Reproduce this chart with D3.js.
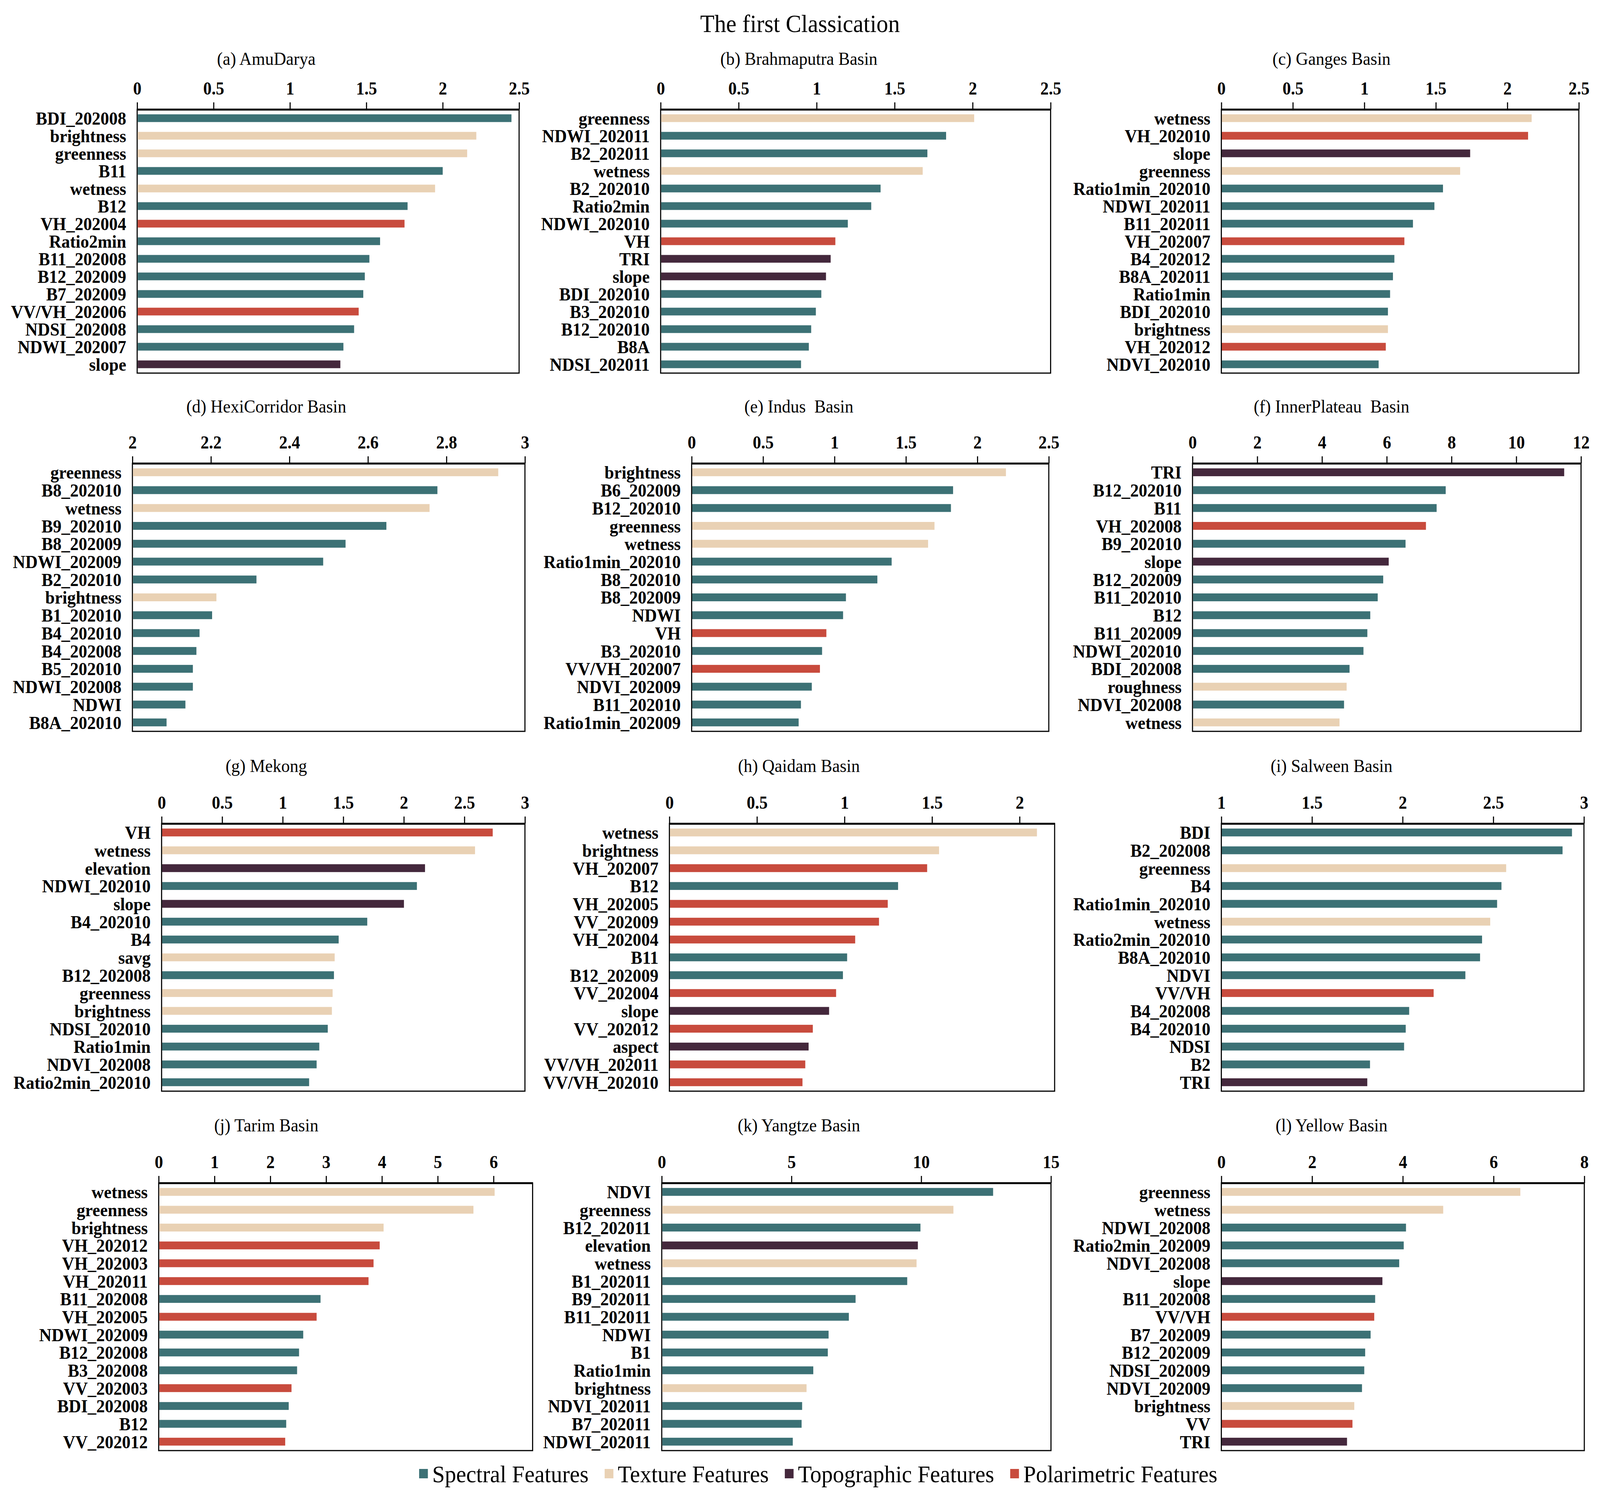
<!DOCTYPE html>
<html>
<head>
<meta charset="utf-8">
<script src="https://cdn.jsdelivr.net/npm/d3@7"></script>
<style>
  html, body { margin: 0; padding: 0; background: #fff; overflow: hidden; }
  svg { display: block; width: 100vw; height: 100vh; }
  text { font-family: "Liberation Serif", "Times New Roman", serif; }
</style>
</head>
<body>
<svg id="chart"></svg>
<script>
// feature groups: S = spectral, T = texture, O = topographic, P = polarimetric
var groupKeys = ['S', 'T', 'O', 'P']
var groupNames = ['Spectral Features', 'Texture Features', 'Topographic Features', 'Polarimetric Features']
var groupColors = ['#3c7175', '#e9d1b4', '#44283c', '#c84b3d']

var mainTitle = 'The first Classication'

// (a) AmuDarya
var aLabels = ['BDI_202008', 'brightness', 'greenness', 'B11', 'wetness', 'B12', 'VH_202004', 'Ratio2min', 'B11_202008', 'B12_202009', 'B7_202009', 'VV/VH_202006', 'NDSI_202008', 'NDWI_202007', 'slope']
var aValues = [2.45, 2.22, 2.16, 2.00, 1.95, 1.77, 1.75, 1.59, 1.52, 1.49, 1.48, 1.45, 1.42, 1.35, 1.33]
var aTypes = ['S', 'T', 'T', 'S', 'T', 'S', 'P', 'S', 'S', 'S', 'S', 'P', 'S', 'S', 'O']

// (b) Brahmaputra
var bLabels = ['greenness', 'NDWI_202011', 'B2_202011', 'wetness', 'B2_202010', 'Ratio2min', 'NDWI_202010', 'VH', 'TRI', 'slope', 'BDI_202010', 'B3_202010', 'B12_202010', 'B8A', 'NDSI_202011']
var bValues = [2.01, 1.83, 1.71, 1.68, 1.41, 1.35, 1.20, 1.12, 1.09, 1.06, 1.03, 0.995, 0.965, 0.95, 0.90]
var bTypes = ['T', 'S', 'S', 'T', 'S', 'S', 'S', 'P', 'O', 'O', 'S', 'S', 'S', 'S', 'S']

// (c) Ganges
var cLabels = ['wetness', 'VH_202010', 'slope', 'greenness', 'Ratio1min_202010', 'NDWI_202011', 'B11_202011', 'VH_202007', 'B4_202012', 'B8A_202011', 'Ratio1min', 'BDI_202010', 'brightness', 'VH_202012', 'NDVI_202010']
var cValues = [2.17, 2.145, 1.74, 1.67, 1.55, 1.49, 1.34, 1.28, 1.21, 1.20, 1.18, 1.165, 1.165, 1.15, 1.10]
var cTypes = ['T', 'P', 'O', 'T', 'S', 'S', 'S', 'P', 'S', 'S', 'S', 'S', 'T', 'P', 'S']

// (d) HexiCorridor
var dLabels = ['greenness', 'B8_202010', 'wetness', 'B9_202010', 'B8_202009', 'NDWI_202009', 'B2_202010', 'brightness', 'B1_202010', 'B4_202010', 'B4_202008', 'B5_202010', 'NDWI_202008', 'NDWI', 'B8A_202010']
var dValues = [2.932, 2.777, 2.757, 2.647, 2.543, 2.486, 2.316, 2.214, 2.203, 2.171, 2.163, 2.154, 2.154, 2.135, 2.087]
var dTypes = ['T', 'S', 'T', 'S', 'S', 'S', 'S', 'T', 'S', 'S', 'S', 'S', 'S', 'S', 'S']

// (e) Indus
var eLabels = ['brightness', 'B6_202009', 'B12_202010', 'greenness', 'wetness', 'Ratio1min_202010', 'B8_202010', 'B8_202009', 'NDWI', 'VH', 'B3_202010', 'VV/VH_202007', 'NDVI_202009', 'B11_202010', 'Ratio1min_202009']
var eValues = [2.20, 1.83, 1.815, 1.70, 1.655, 1.40, 1.30, 1.08, 1.06, 0.943, 0.913, 0.898, 0.841, 0.765, 0.749]
var eTypes = ['T', 'S', 'S', 'T', 'T', 'S', 'S', 'S', 'S', 'P', 'S', 'P', 'S', 'S', 'S']

// (f) InnerPlateau
var fLabels = ['TRI', 'B12_202010', 'B11', 'VH_202008', 'B9_202010', 'slope', 'B12_202009', 'B11_202010', 'B12', 'B11_202009', 'NDWI_202010', 'BDI_202008', 'roughness', 'NDVI_202008', 'wetness']
var fValues = [11.48, 7.82, 7.54, 7.21, 6.58, 6.06, 5.89, 5.72, 5.49, 5.40, 5.28, 4.85, 4.76, 4.68, 4.54]
var fTypes = ['O', 'S', 'S', 'P', 'S', 'O', 'S', 'S', 'S', 'S', 'S', 'S', 'T', 'S', 'T']

// (g) Mekong
var gLabels = ['VH', 'wetness', 'elevation', 'NDWI_202010', 'slope', 'B4_202010', 'B4', 'savg', 'B12_202008', 'greenness', 'brightness', 'NDSI_202010', 'Ratio1min', 'NDVI_202008', 'Ratio2min_202010']
var gValues = [2.734, 2.588, 2.175, 2.108, 2.001, 1.698, 1.462, 1.429, 1.423, 1.412, 1.406, 1.372, 1.302, 1.28, 1.218]
var gTypes = ['P', 'T', 'O', 'S', 'O', 'S', 'S', 'T', 'S', 'T', 'T', 'S', 'S', 'S', 'S']

// (h) Qaidam
var hLabels = ['wetness', 'brightness', 'VH_202007', 'B12', 'VH_202005', 'VV_202009', 'VH_202004', 'B11', 'B12_202009', 'VV_202004', 'slope', 'VV_202012', 'aspect', 'VV/VH_202011', 'VV/VH_202010']
var hValues = [2.099, 1.54, 1.472, 1.306, 1.247, 1.197, 1.061, 1.015, 0.991, 0.952, 0.912, 0.819, 0.795, 0.776, 0.760]
var hTypes = ['T', 'T', 'P', 'S', 'P', 'P', 'P', 'S', 'S', 'P', 'O', 'P', 'O', 'P', 'P']

// (i) Salween
var iLabels = ['BDI', 'B2_202008', 'greenness', 'B4', 'Ratio1min_202010', 'wetness', 'Ratio2min_202010', 'B8A_202010', 'NDVI', 'VV/VH', 'B4_202008', 'B4_202010', 'NDSI', 'B2', 'TRI']
var iValues = [2.934, 2.882, 2.571, 2.545, 2.521, 2.483, 2.438, 2.427, 2.346, 2.171, 2.036, 2.017, 2.008, 1.82, 1.805]
var iTypes = ['S', 'S', 'T', 'S', 'S', 'T', 'S', 'S', 'S', 'P', 'S', 'S', 'S', 'S', 'O']

// (j) Tarim
var jLabels = ['wetness', 'greenness', 'brightness', 'VH_202012', 'VH_202003', 'VH_202011', 'B11_202008', 'VH_202005', 'NDWI_202009', 'B12_202008', 'B3_202008', 'VV_202003', 'BDI_202008', 'B12', 'VV_202012']
var jValues = [6.02, 5.64, 4.03, 3.96, 3.85, 3.76, 2.90, 2.83, 2.59, 2.515, 2.48, 2.38, 2.33, 2.285, 2.267]
var jTypes = ['T', 'T', 'T', 'P', 'P', 'P', 'S', 'P', 'S', 'S', 'S', 'P', 'S', 'S', 'P']

// (k) Yangtze
var kLabels = ['NDVI', 'greenness', 'B12_202011', 'elevation', 'wetness', 'B1_202011', 'B9_202011', 'B11_202011', 'NDWI', 'B1', 'Ratio1min', 'brightness', 'NDVI_202011', 'B7_202011', 'NDWI_202011']
var kValues = [12.77, 11.24, 9.97, 9.87, 9.82, 9.46, 7.47, 7.21, 6.43, 6.40, 5.84, 5.58, 5.41, 5.39, 5.05]
var kTypes = ['S', 'T', 'S', 'O', 'T', 'S', 'S', 'S', 'S', 'S', 'S', 'T', 'S', 'S', 'S']

// (l) Yellow
var lLabels = ['greenness', 'wetness', 'NDWI_202008', 'Ratio2min_202009', 'NDVI_202008', 'slope', 'B11_202008', 'VV/VH', 'B7_202009', 'B12_202009', 'NDSI_202009', 'NDVI_202009', 'brightness', 'VV', 'TRI']
var lValues = [6.59, 4.89, 4.07, 4.02, 3.92, 3.55, 3.39, 3.37, 3.29, 3.17, 3.15, 3.10, 2.93, 2.89, 2.77]
var lTypes = ['T', 'T', 'S', 'S', 'S', 'O', 'S', 'P', 'S', 'S', 'S', 'S', 'T', 'P', 'O']

// axis domains and tick values per panel
var panelTitles = ['(a) AmuDarya', '(b) Brahmaputra Basin', '(c) Ganges Basin',
  '(d) HexiCorridor Basin', '(e) Indus  Basin', '(f) InnerPlateau  Basin',
  '(g) Mekong', '(h) Qaidam Basin', '(i) Salween Basin',
  '(j) Tarim Basin', '(k) Yangtze Basin', '(l) Yellow Basin']
var panelDomains = [[0, 2.5], [0, 2.5], [0, 2.5], [2, 3], [0, 2.5], [0, 12],
  [0, 3], [0, 2.2], [1, 3], [0, 6.7], [0, 15], [0, 8]]
var panelTicks = [
  [0, 0.5, 1, 1.5, 2, 2.5], [0, 0.5, 1, 1.5, 2, 2.5], [0, 0.5, 1, 1.5, 2, 2.5],
  [2, 2.2, 2.4, 2.6, 2.8, 3], [0, 0.5, 1, 1.5, 2, 2.5], [0, 2, 4, 6, 8, 10, 12],
  [0, 0.5, 1, 1.5, 2, 2.5, 3], [0, 0.5, 1, 1.5, 2], [1, 1.5, 2, 2.5, 3],
  [0, 1, 2, 3, 4, 5, 6], [0, 5, 10, 15], [0, 2, 4, 6, 8]]

var panelLabels = [aLabels, bLabels, cLabels, dLabels, eLabels, fLabels, gLabels, hLabels, iLabels, jLabels, kLabels, lLabels]
var panelValues = [aValues, bValues, cValues, dValues, eValues, fValues, gValues, hValues, iValues, jValues, kValues, lValues]
var panelTypes = [aTypes, bTypes, cTypes, dTypes, eTypes, fTypes, gTypes, hTypes, iTypes, jTypes, kTypes, lTypes]

// layout (pixels in the 4386 x 3819 frame)
var W = 4386, H = 3819
var colCenters = [730, 2190, 3650]
var rowTitleY = [166, 1056, 1976, 2896]
var rowTop = [280, 1186, 2108, 3028]
var rowBottom = [955, 1872, 2793, 3713]
var plotLeft = [376, 1811, 3348, 363, 1896, 3269, 443, 1835, 3348, 435, 1814, 3348]
var plotRight = [1423, 2880, 4328, 1439, 2875, 4334, 1439, 2891, 4342, 1460, 2881, 4343]

var color = d3.scaleOrdinal().domain(groupKeys).range(groupColors)

// the svg is stretched to the window, so the frame fills it whatever the css pixel size
var svg = d3.select('#chart')
  .attr('viewBox', [0, 0, W, H])
  .attr('preserveAspectRatio', 'none')

svg.append('rect').attr('width', W).attr('height', H).attr('fill', '#fff')

svg.append('text')
  .attr('x', W / 2)
  .attr('y', 82)
  .attr('text-anchor', 'middle')
  .style('font-size', '64px')
  .text(mainTitle)

function fmt (v) {
  return String(+v.toFixed(2))
}

panelTitles.forEach(function (title, p) {
  var row = Math.floor(p / 3)
  var col = p % 3
  var top = rowTop[row]
  var bottom = rowBottom[row]
  var left = plotLeft[p]
  var right = plotRight[p]

  var data = panelLabels[p].map(function (name, k) {
    return { name: name, value: panelValues[p][k], type: panelTypes[p][k] }
  })

  var x = d3.scaleLinear().domain(panelDomains[p]).range([left, right])
  var y = d3.scaleBand().domain(panelLabels[p]).range([top, bottom]).padding(0)

  var g = svg.append('g')

  g.append('text')
    .attr('x', colCenters[col])
    .attr('y', rowTitleY[row])
    .attr('text-anchor', 'middle')
    .style('font-size', '47px')
    .style('white-space', 'pre')
    .text(title)

  // frame
  g.append('rect')
    .attr('x', left)
    .attr('y', top)
    .attr('width', right - left)
    .attr('height', bottom - top)
    .attr('fill', 'none')
    .attr('stroke', '#000')
    .attr('stroke-width', 3)

  // bars
  var barH = y.bandwidth() * 0.44
  g.selectAll('.bar')
    .data(data)
    .enter()
    .append('rect')
    .attr('class', 'bar')
    .attr('x', x(panelDomains[p][0]) + 1.5)
    .attr('y', function (d) { return y(d.name) + (y.bandwidth() - barH) / 2 })
    .attr('width', function (d) { return x(d.value) - x(panelDomains[p][0]) - 1.5 })
    .attr('height', barH)
    .attr('fill', function (d) { return color(d.type) })

  // category labels
  g.selectAll('.lab')
    .data(data)
    .enter()
    .append('text')
    .attr('class', 'lab')
    .attr('x', left - 30)
    .attr('y', function (d) { return y(d.name) + y.bandwidth() / 2 })
    .attr('dy', '0.35em')
    .attr('text-anchor', 'end')
    .style('font-size', '47px')
    .style('font-weight', 'bold')
    .text(function (d) { return d.name })

  // top value axis
  var axis = g.append('g')
    .attr('transform', 'translate(0,' + top + ')')
    .call(d3.axisTop(x).tickValues(panelTicks[p]).tickFormat(fmt)
      .tickSize(18).tickSizeOuter(0).tickPadding(20))

  axis.select('.domain').attr('stroke-width', 5)
  axis.selectAll('.tick line').attr('stroke-width', 3)
  axis.selectAll('.tick text')
    .style('font-family', '"Liberation Serif", "Times New Roman", serif')
    .style('font-size', '46px')
    .style('font-weight', 'bold')
    .attr('fill', '#000')
})

// legend
var legend = svg.append('g')
var lx = 0
groupNames.forEach(function (name, k) {
  var item = legend.append('g').attr('transform', 'translate(' + lx + ',0)')
  item.append('rect')
    .attr('x', 0)
    .attr('y', -12)
    .attr('width', 24)
    .attr('height', 24)
    .attr('fill', groupColors[k])
  var t = item.append('text')
    .attr('x', 36)
    .attr('y', 0)
    .attr('dy', '0.35em')
    .style('font-size', '62px')
    .text(name)
  lx += 36 + t.node().getComputedTextLength() + 44
})
var legendW = lx - 44
legend.attr('transform', 'translate(' + (W / 2 + 50 - legendW / 2) + ',3772)')
</script>
</body>
</html>
